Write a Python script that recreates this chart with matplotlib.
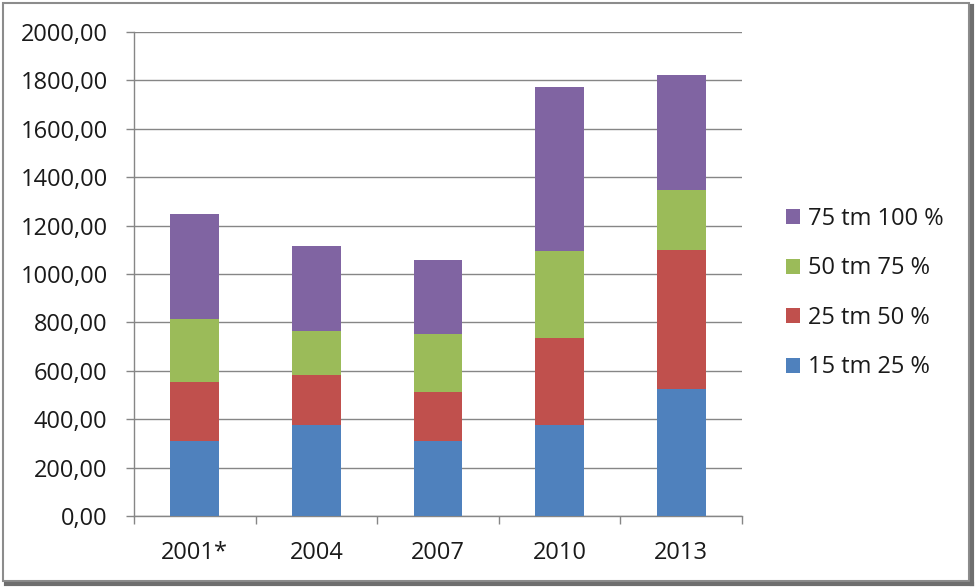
import numpy as np
import matplotlib.pyplot as plt
from matplotlib.patches import Rectangle
from matplotlib.lines import Line2D

plt.rcParams.update({'font.family': ['Open Sans', 'DejaVu Sans']})
plt.rcParams.update({'font.size': 17})

years = ['2001*', '2004', '2007', '2010', '2013']
labels = ['15 tm 25 %', '25 tm 50 %', '50 tm 75 %', '75 tm 100 %']
v_15_25 = [308, 377, 308, 377, 526]
v_25_50 = [246, 204, 203, 359, 572]
v_50_75 = [262, 182, 241, 358, 249]
v_75_100 = [433, 352, 304, 679, 476]
colors = ['#4F81BD', '#C0504D', '#9BBB59', '#8064A2']
yticks = np.arange(0, 2001, 200)

fig = plt.figure(figsize=(9.75, 5.87), dpi=100, facecolor='w')
ax = fig.add_axes([134/975, 71/587, 608/975, 484/587])

x = np.arange(len(years))
bottom = np.zeros(len(years))
handles = []
for vals, col, lab in zip([v_15_25, v_25_50, v_50_75, v_75_100], colors, labels):
    b = ax.bar(x, vals, 0.4, bottom=bottom, color=col, label=lab, zorder=3)
    bottom += np.array(vals)
    handles.append(b)

ax.set_xlim(-0.5, len(years) - 0.5)
ax.set_ylim(0, 2000)
ax.set_yticks(yticks)
ax.set_yticklabels([f'{v:.2f}'.replace('.', ',') for v in yticks])
ax.yaxis.grid(True, color='#868686', linewidth=1, zorder=0)

# category labels centred, tick marks between categories
ax.set_xticks(x)
ax.set_xticklabels(years)
ax.set_xticks(np.arange(-0.5, len(years)), minor=True)
ax.tick_params(axis='x', which='major', length=0, pad=18)
ax.tick_params(axis='x', which='minor', length=6, width=1)
ax.tick_params(axis='y', length=6, width=1, pad=13)
ax.tick_params(axis='both', which='both', color='#868686', labelcolor='#1a1a1a')

for s in ['top', 'right']:
    ax.spines[s].set_visible(False)
for s in ['left', 'bottom']:
    ax.spines[s].set_color('#868686')
    ax.spines[s].set_linewidth(1)

leg = fig.legend(handles[::-1], labels[::-1], loc='upper left',
                 bbox_to_anchor=(786/975, 1 - 207/587), frameon=False,
                 handlelength=0.6, handleheight=0.6, handletextpad=0.35,
                 labelspacing=1.08, borderaxespad=0, borderpad=0)
for t in leg.get_texts():
    t.set_color('#1a1a1a')

# outer frame with a slight shadow
fig.patches.append(Rectangle((3/975, 6/587), 966/975, 578/587, transform=fig.transFigure,
                             fill=False, edgecolor='#8c8c8c', linewidth=1.5))
fig.lines.append(Line2D([6/975, 972/975], [3/587, 3/587], transform=fig.transFigure,
                        color='#6e6e6e', linewidth=3))
fig.lines.append(Line2D([972/975, 972/975], [3/587, 581/587], transform=fig.transFigure,
                        color='#6e6e6e', linewidth=3))

plt.savefig('out.png', dpi=100)
